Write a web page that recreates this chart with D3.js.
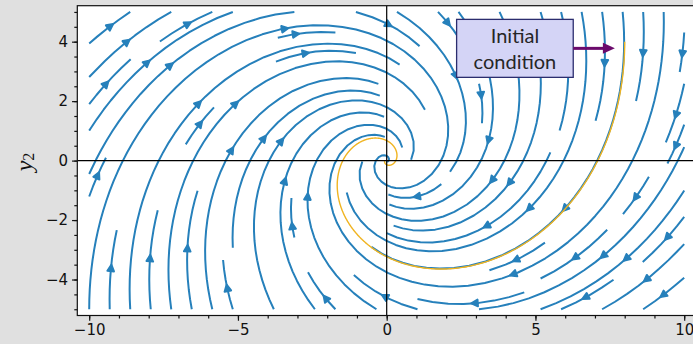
<!DOCTYPE html>
<html><head><meta charset="utf-8">
<script src="https://cdn.jsdelivr.net/npm/d3@7"></script>
<style>html,body{margin:0;padding:0;background:#e0e0e0;}svg{display:block}</style>
</head><body><svg id="c" width="693" height="344"></svg>
<script>
// ---------------- data ----------------
const systemMatrix = [[-0.5, 1.0], [-1.0, -0.5]];   // y' = A y
const initialCondition = [8, 4];
const trajectoryTime = [0, 10];
const fieldX = [-10, 10];
const fieldY = [-5, 5];
const fieldN = [20, 20];
const xLimits = [-10.4, 10.4];
const yLimits = [-5.21, 5.21];
const xTicks = [-10, -5, 0, 5, 10];
const yTicks = [-4, -2, 0, 2, 4];
const xMinorTicks = [-10,-9,-8,-7,-6,-5,-4,-3,-2,-1,0,1,2,3,4,5,6,7,8,9,10];
const yMinorTicks = [-5,-4.5,-4,-3.5,-3,-2.5,-2,-1.5,-1,-0.5,0,0.5,1,1.5,2,2.5,3,3.5,4,4.5,5];
const annotationLines = ["Initial", "condition"];
const annotationBox = {x0: 2.35, x1: 6.27, y0: 2.8, y1: 4.75};
const annotationTip = [7.67, 3.78];

// ---------------- layout ----------------
const svg = d3.select("#c");
const x = d3.scaleLinear().domain(xLimits).range([77.3, 696.1]);
const y = d3.scaleLinear().domain(yLimits).range([315.5, 5.7]);
const BLUE = "#2680bb";

svg.append("rect").attr("x", x(xLimits[0])).attr("y", y(yLimits[1]))
  .attr("width", x(xLimits[1]) - x(xLimits[0])).attr("height", y(yLimits[0]) - y(yLimits[1]))
  .attr("fill", "#fff");

// ---------------- streamplot (matplotlib algorithm) ----------------
function streamplot(A, xr, yr, nx, ny) {
  const dx = (xr[1] - xr[0]) / (nx - 1), dy = (yr[1] - yr[0]) / (ny - 1);
  const U = [], V = [], S = [];
  for (let j = 0; j < ny; j++) {
    U.push([]); V.push([]); S.push([]);
    for (let i = 0; i < nx; i++) {
      const px = xr[0] + i * dx, py = yr[0] + j * dy;
      const u = (A[0][0] * px + A[0][1] * py) / dx;
      const v = (A[1][0] * px + A[1][1] * py) / dy;
      U[j].push(u); V[j].push(v);
      const ua = u / (nx - 1), va = v / (ny - 1);
      S[j].push(Math.sqrt(ua * ua + va * va));
    }
  }
  const MNX = 30, MNY = 30;
  const mask = new Int8Array(MNX * MNY);
  let cur = null, traj = [];
  const xg2m = (MNX - 1) / (nx - 1), yg2m = (MNY - 1) / (ny - 1);
  const xm2g = 1 / xg2m, ym2g = 1 / yg2m;
  const OUT = "out", TERM = "term", INV = "inv";
  const maxlength = 4.0, minlength = 0.1;
  function pyRound(v) { const f = Math.floor(v), d = v - f;
    if (d > 0.5) return f + 1; if (d < 0.5) return f; return (f % 2 === 0) ? f : f + 1; }
  function within(xi, yi) { return xi >= 0 && xi <= nx - 1 && yi >= 0 && yi <= ny - 1; }
  function interp(a, xi, yi) {
    const ix = Math.trunc(xi), iy = Math.trunc(yi);
    const xn = ix === nx - 1 ? ix : ix + 1, yn = iy === ny - 1 ? iy : iy + 1;
    const xt = xi - ix, yt = yi - iy;
    const a0 = a[iy][ix] * (1 - xt) + a[iy][xn] * xt;
    const a1 = a[yn][ix] * (1 - xt) + a[yn][xn] * xt;
    return a0 * (1 - yt) + a1 * yt;
  }
  function g2m(xg, yg) { return [pyRound(xg * xg2m), pyRound(yg * yg2m)]; }
  function updCell(xm, ym) {
    if (!(cur && cur[0] === xm && cur[1] === ym)) {
      const k = ym * MNX + xm;
      if (mask[k] === 0) { traj.push(k); mask[k] = 1; cur = [xm, ym]; }
      else throw INV;
    }
  }
  function fwd(xi, yi) {
    if (!within(xi, yi)) throw OUT;
    const s = interp(S, xi, yi);
    if (s === 0) throw TERM;
    const dt = 1 / s;
    return [interp(U, xi, yi) * dt, interp(V, xi, yi) * dt];
  }
  function bwd(xi, yi) { const r = fwd(xi, yi); return [-r[0], -r[1]]; }
  function euler(xyf, f) {
    const [xi, yi] = xyf[xyf.length - 1];
    const [cx, cy] = f(xi, yi);
    let dsx, dsy;
    if (cx === 0) dsx = Infinity; else if (cx < 0) dsx = xi / -cx; else dsx = (nx - 1 - xi) / cx;
    if (cy === 0) dsy = Infinity; else if (cy < 0) dsy = yi / -cy; else dsy = (ny - 1 - yi) / cy;
    const ds = Math.min(dsx, dsy);
    xyf.push([xi + cx * ds, yi + cy * ds]);
    return ds;
  }
  function rk12(x0, y0, f) {
    const maxerror = 0.003, maxds = Math.min(1 / MNX, 1 / MNY, 0.1);
    let ds = maxds, stotal = 0, xi = x0, yi = y0;
    const xyf = [];
    while (true) {
      let k1, k2;
      try {
        if (within(xi, yi)) xyf.push([xi, yi]); else throw OUT;
        k1 = f(xi, yi);
        k2 = f(xi + ds * k1[0], yi + ds * k1[1]);
      } catch (e) {
        if (e === OUT) { if (xyf.length) stotal += euler(xyf, f); break; }
        if (e === TERM) break;
        throw e;
      }
      const dx1 = ds * k1[0], dy1 = ds * k1[1];
      const dx2 = ds * 0.5 * (k1[0] + k2[0]), dy2 = ds * 0.5 * (k1[1] + k2[1]);
      const error = Math.hypot((dx2 - dx1) / (nx - 1), (dy2 - dy1) / (ny - 1));
      if (error < maxerror) {
        xi += dx2; yi += dy2;
        try {
          if (!within(xi, yi)) throw INV;
          const m = g2m(xi, yi); updCell(m[0], m[1]);
        } catch (e) { if (e === INV) break; throw e; }
        if (stotal + ds > maxlength) break;
        stotal += ds;
      }
      ds = error === 0 ? maxds : Math.min(maxds, 0.85 * ds * Math.sqrt(maxerror / error));
    }
    return [stotal, xyf];
  }
  function integrate(x0, y0) {
    try { const m = g2m(x0, y0); traj = []; updCell(m[0], m[1]); }
    catch (e) { if (e === INV) return null; throw e; }
    let stotal = 0;
    let r = rk12(x0, y0, bwd);
    stotal += r[0];
    let xy = r[1].slice().reverse();
    cur = g2m(x0, y0);
    r = rk12(x0, y0, fwd);
    stotal += r[0];
    xy = xy.concat(r[1].slice(1));
    if (stotal > minlength) return xy;
    for (const k of traj) mask[k] = 0;
    return null;
  }
  function* startPoints() {
    let xfirst = 0, yfirst = 1, xlast = MNX - 1, ylast = MNY - 1, px = 0, py = 0, dir = "right";
    for (let i = 0; i < MNX * MNY; i++) {
      yield [px, py];
      if (dir === "right") { px += 1; if (px >= xlast) { xlast -= 1; dir = "up"; } }
      else if (dir === "up") { py += 1; if (py >= ylast) { ylast -= 1; dir = "left"; } }
      else if (dir === "left") { px -= 1; if (px <= xfirst) { xfirst += 1; dir = "down"; } }
      else { py -= 1; if (py <= yfirst) { yfirst += 1; dir = "right"; } }
    }
  }
  const out = [];
  for (const [xm, ym] of startPoints()) {
    if (mask[ym * MNX + xm] === 0) {
      const t = integrate(xm * xm2g, ym * ym2g);
      if (t) out.push(t.map(p => [p[0] * dx + xr[0], p[1] * dy + yr[0]]));
    }
  }
  return out;
}

const streams = streamplot(systemMatrix, fieldX, fieldY, fieldN[0], fieldN[1]);
const clipId = "clipax";
svg.append("clipPath").attr("id", clipId).append("rect")
  .attr("x", x(xLimits[0])).attr("y", y(yLimits[1]))
  .attr("width", x(xLimits[1]) - x(xLimits[0])).attr("height", y(yLimits[0]) - y(yLimits[1]));
const plot = svg.append("g").attr("clip-path", `url(#${clipId})`);
const line = d3.line().x(d => x(d[0])).y(d => y(d[1]));
const gs = plot.append("g");
gs.selectAll("path.s").data(streams).join("path").attr("class", "s")
  .attr("d", line).attr("fill", "none").attr("stroke", BLUE)
  .attr("stroke-width", 2).attr("stroke-linecap", "butt").attr("stroke-linejoin", "round");

// arrows halfway along each streamline
const arrows = streams.map(t => {
  const s = []; let acc = 0;
  for (let i = 1; i < t.length; i++) { acc += Math.hypot(t[i][0] - t[i-1][0], t[i][1] - t[i-1][1]); s.push(acc); }
  const half = s[s.length - 1] / 2;
  let n = 0; while (n < s.length && s[n] < half) n++;
  const tail = t[n];
  const nxt = t[Math.min(n + 1, t.length - 1)];
  const head = [(tail[0] + nxt[0]) / 2, (tail[1] + nxt[1]) / 2];
  return {tail, head};
});
gs.selectAll("path.a").data(arrows).join("path").attr("class", "a")
  .attr("d", d => {
    const tx = x(d.tail[0]), ty = y(d.tail[1]), hx = x(d.head[0]), hy = y(d.head[1]);
    let ux = hx - tx, uy = hy - ty; const L = Math.hypot(ux, uy) || 1; ux /= L; uy /= L;
    const hl = 6.5, hw = 3.3;
    const bx = hx - ux * hl, by = hy - uy * hl;
    return `M${hx},${hy}L${bx - uy * hw},${by + ux * hw}L${bx + uy * hw},${by - ux * hw}Z`;
  })
  .attr("fill", BLUE).attr("stroke", BLUE).attr("stroke-width", 2).attr("stroke-linejoin", "round");

// ---------------- trajectory from initial condition (RK4) ----------------
function solveTrajectory(A, y0, t0, t1, h) {
  const f = p => [A[0][0] * p[0] + A[0][1] * p[1], A[1][0] * p[0] + A[1][1] * p[1]];
  const pts = [y0.slice()]; let p = y0.slice();
  for (let t = t0; t < t1 - 1e-9; t += h) {
    const k1 = f(p), k2 = f([p[0] + h/2 * k1[0], p[1] + h/2 * k1[1]]);
    const k3 = f([p[0] + h/2 * k2[0], p[1] + h/2 * k2[1]]), k4 = f([p[0] + h * k3[0], p[1] + h * k3[1]]);
    p = [p[0] + h/6 * (k1[0] + 2*k2[0] + 2*k3[0] + k4[0]), p[1] + h/6 * (k1[1] + 2*k2[1] + 2*k3[1] + k4[1])];
    pts.push(p);
  }
  return pts;
}
const traj = solveTrajectory(systemMatrix, initialCondition, trajectoryTime[0], trajectoryTime[1], 0.01);
plot.append("path").datum(traj).attr("d", line).attr("fill", "none")
  .attr("stroke", "#f0b421").attr("stroke-width", 1.4);

// zero lines
plot.append("line").attr("x1", x(xLimits[0])).attr("x2", x(xLimits[1])).attr("y1", y(0)).attr("y2", y(0))
  .attr("stroke", "#000").attr("stroke-width", 1.2);
plot.append("line").attr("x1", x(0)).attr("x2", x(0)).attr("y1", y(yLimits[0])).attr("y2", y(yLimits[1]))
  .attr("stroke", "#000").attr("stroke-width", 1.2);

// ---------------- axes ----------------
svg.append("rect").attr("x", x(xLimits[0])).attr("y", y(yLimits[1]))
  .attr("width", x(xLimits[1]) - x(xLimits[0])).attr("height", y(yLimits[0]) - y(yLimits[1]))
  .attr("fill", "none").attr("stroke", "#111").attr("stroke-width", 1.2);

const font = "'DejaVu Sans', sans-serif";
const xb = y(yLimits[0]), yl = x(xLimits[0]);
const xAxis = d3.axisBottom(x).tickValues(xTicks).tickSize(5.25).tickPadding(4)
  .tickFormat(d => d < 0 ? "\u2212" + Math.abs(d) : String(d));
const xMinor = d3.axisBottom(x).tickValues(xMinorTicks).tickSize(3).tickFormat("");
const yAxis = d3.axisLeft(y).tickValues(yTicks).tickSize(5.25).tickPadding(4)
  .tickFormat(d => d < 0 ? "\u2212" + Math.abs(d) : String(d));
const yMinor = d3.axisLeft(y).tickValues(yMinorTicks).tickSize(3).tickFormat("");
function styleAxis(g) {
  g.select(".domain").remove();
  g.selectAll("line").attr("stroke", "#111").attr("stroke-width", 1.2);
  g.selectAll("text").attr("fill", "#111").style("font-family", font).style("font-size", "15px");
}
svg.append("g").attr("transform", `translate(0,${xb})`).call(xMinor).call(styleAxis);
svg.append("g").attr("transform", `translate(0,${xb})`).call(xAxis).call(styleAxis);
svg.append("g").attr("transform", `translate(${yl},0)`).call(yMinor).call(styleAxis);
svg.append("g").attr("transform", `translate(${yl},0)`).call(yAxis).call(styleAxis);

// y label
const ylab = svg.append("text").attr("transform", "translate(24,162) rotate(-90)")
  .attr("text-anchor", "middle").attr("dominant-baseline", "central")
  .style("font-family", "'Liberation Serif', 'DejaVu Serif', serif").style("font-size", "24px").attr("fill", "#111");
ylab.append("tspan").style("font-style", "italic").text("y");
ylab.append("tspan").attr("dy", 4).style("font-size", "16px").text("2");

// ---------------- annotation ----------------
const bx0 = x(annotationBox.x0), bx1 = x(annotationBox.x1), by0 = y(annotationBox.y1), by1 = y(annotationBox.y0);
svg.append("rect").attr("x", bx0).attr("y", by0).attr("width", bx1 - bx0).attr("height", by1 - by0)
  .attr("fill", "#d4d4f6").attr("stroke", "#2b2d6e").attr("stroke-width", 1.3);
const ay = (by0 + by1) / 2, tipX = x(annotationTip[0]);
svg.append("line").attr("x1", bx1).attr("x2", tipX - 10).attr("y1", ay).attr("y2", ay)
  .attr("stroke", "#6b0a6c").attr("stroke-width", 3);
svg.append("path").attr("d", `M${tipX},${ay}L${tipX - 12},${ay - 5.5}L${tipX - 12},${ay + 5.5}Z`).attr("fill", "#6b0a6c");
const at = svg.append("text").attr("text-anchor", "middle")
  .style("font-family", "Lato, 'Open Sans', sans-serif").style("font-size", "20px").attr("fill", "#262626");
at.selectAll("tspan").data(annotationLines).join("tspan")
  .attr("x", (bx0 + bx1) / 2).attr("y", (d, i) => by0 + 24 + i * 26).text(d => d);
</script></body></html>
